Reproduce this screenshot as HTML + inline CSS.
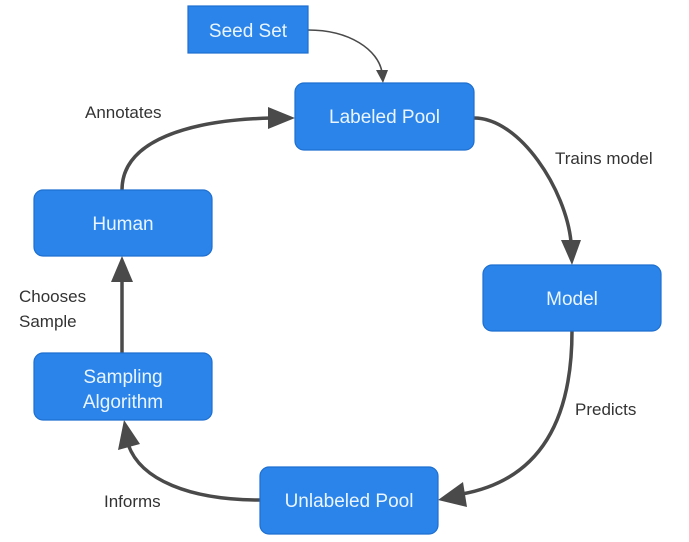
<!DOCTYPE html>
<html><head><meta charset="utf-8"><style>
html,body{margin:0;padding:0;background:#fff;}
svg{display:block;font-family:"Liberation Sans",sans-serif;}
.b{fill:#2a84ea;stroke:#1e6fd0;stroke-width:1.2;}
.t{fill:#eaf5ff;font-size:19px;text-anchor:middle;}
.l{fill:#333;font-size:17px;}
.e{fill:none;stroke:#4a4a4a;stroke-width:3.5;}
</style></head><body>
<svg width="689" height="542" viewBox="0 0 689 542">
<defs>
<marker id="a" markerWidth="10" markerHeight="10" refX="9" refY="5" orient="auto" markerUnits="userSpaceOnUse" viewBox="0 0 10 10">
</marker>
</defs>
<!-- edges -->
<path d="M308,30 C350,30 378,50 382,72" fill="none" stroke="#4a4a4a" stroke-width="1.6"/>
<polygon points="376,70 388,70 383,83" fill="#4a4a4a"/>

<path class="e" d="M122,190 C122,140 190,120 272,118"/>
<polygon points="268,107 295,118 268,129" fill="#4a4a4a"/>

<path class="e" d="M474,118 C520,118 566,190 571,242"/>
<polygon points="561,240 581,240 572,265" fill="#4a4a4a"/>

<path class="e" d="M572,331 C572,420 540,480 462,494"/>
<polygon points="463,482 438,500 467,507" fill="#4a4a4a"/>

<path class="e" d="M260,500 C190,500 140,480 128,444"/>
<polygon points="118,450 124,420 140,444" fill="#4a4a4a"/>

<path class="e" d="M122,353 L122,280"/>
<polygon points="111,282 122,256 133,282" fill="#4a4a4a"/>

<!-- nodes -->
<rect class="b" x="188" y="6" width="120" height="47"/>
<text class="t" x="248" y="37">Seed Set</text>
<rect class="b" x="295" y="83" width="179" height="67" rx="9"/>
<text class="t" x="384.5" y="123">Labeled Pool</text>
<rect class="b" x="34" y="190" width="178" height="66" rx="9"/>
<text class="t" x="123" y="230">Human</text>
<rect class="b" x="483" y="265" width="178" height="66" rx="9"/>
<text class="t" x="572" y="305">Model</text>
<rect class="b" x="34" y="353" width="178" height="67" rx="9"/>
<text class="t" x="123" y="383">Sampling</text>
<text class="t" x="123" y="408">Algorithm</text>
<rect class="b" x="260" y="467" width="178" height="67" rx="9"/>
<text class="t" x="349" y="507">Unlabeled Pool</text>

<!-- labels -->
<text class="l" x="85" y="118">Annotates</text>
<text class="l" x="555" y="164">Trains model</text>
<text class="l" x="575" y="415">Predicts</text>
<text class="l" x="19" y="302">Chooses</text>
<text class="l" x="19" y="327">Sample</text>
<text class="l" x="104" y="507">Informs</text>
</svg>
</body></html>
